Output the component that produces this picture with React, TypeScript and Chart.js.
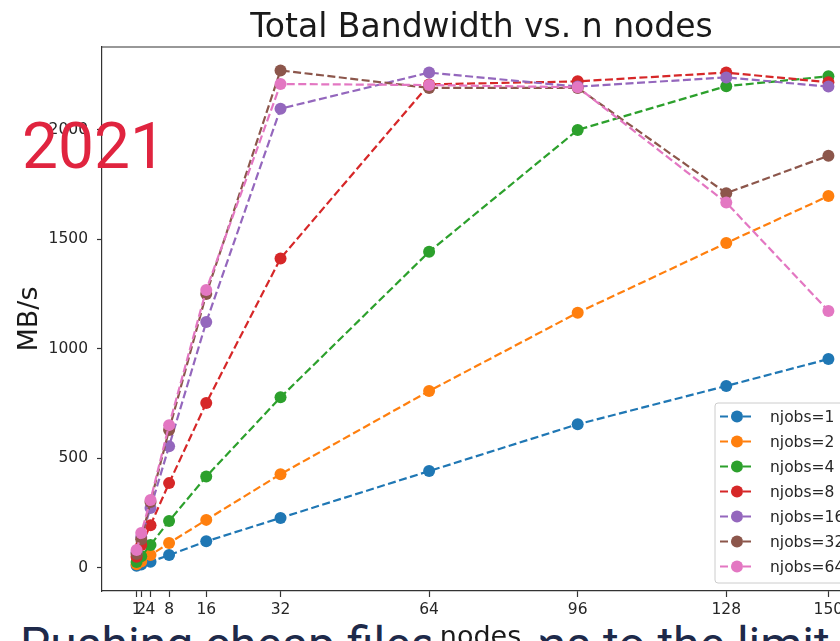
import React, { useEffect, useRef } from "react";
import { Chart, registerables } from "chart.js";

Chart.register(...registerables);

const nodes = [1, 2, 4, 8, 16, 32, 64, 96, 128, 150];
const xTickValues = [1, 2, 4, 8, 16, 32, 64, 96, 128, 150];
const yTickValues = [0, 500, 1000, 1500, 2000];

const njobs1 = [8, 14, 27, 57, 120, 227, 441, 655, 830, 953];
const njobs2 = [15, 28, 57, 112, 218, 427, 807, 1165, 1483, 1698];
const njobs4 = [25, 52, 103, 213, 416, 778, 1443, 2000, 2200, 2245];
const njobs8 = [50, 103, 194, 386, 752, 1413, 2208, 2222, 2262, 2218];
const njobs16 = [70, 140, 272, 555, 1122, 2097, 2262, 2198, 2240, 2198];
const njobs32 = [62, 130, 300, 629, 1250, 2272, 2192, 2192, 1711, 1882];
const njobs64 = [80, 158, 309, 651, 1269, 2210, 2205, 2195, 1668, 1173];

const seriesLabels = ["njobs=1", "njobs=2", "njobs=4", "njobs=8", "njobs=16", "njobs=32", "njobs=64"];
const seriesValues = [njobs1, njobs2, njobs4, njobs8, njobs16, njobs32, njobs64];
const seriesColors = ["#1f77b4", "#ff7f0e", "#2ca02c", "#d62728", "#9467bd", "#8c564b", "#e377c2"];

const TITLE = "Total Bandwidth vs. n nodes";
const X_LABEL = "nodes";
const Y_LABEL = "MB/s";
const YEAR_TEXT = "2021";
const SLIDE_TEXT = "Pushing cheap filesystems to the limit";

const FONT = '"DejaVu Sans", sans-serif';
const DASH = [8, 3.5];

const overlayPlugin = {
  id: "overlay",
  afterDraw(chart: any) {
    const ctx = chart.ctx as CanvasRenderingContext2D;
    const a = chart.chartArea;
    ctx.save();
    // top & right spines
    ctx.strokeStyle = "#333";
    ctx.lineWidth = 1.2;
    ctx.beginPath();
    ctx.moveTo(a.left, a.top);
    ctx.lineTo(a.right, a.top);
    ctx.lineTo(a.right, a.bottom);
    ctx.stroke();

    // title
    ctx.fillStyle = "#1a1a1a";
    ctx.textAlign = "center";
    ctx.textBaseline = "alphabetic";
    ctx.font = `33px ${FONT}`;
    ctx.fillText(TITLE, (a.left + a.right) / 2 - 1, 37);

    // x label with white backing
    const cx = (a.left + a.right) / 2 - 2;
    ctx.fillStyle = "#ffffff";
    ctx.fillRect(cx - 50, 620, 110, 30);
    ctx.fillStyle = "#1a1a1a";
    ctx.font = `27px ${FONT}`;
    ctx.fillText(X_LABEL, cx, 645);

    // y label
    ctx.save();
    ctx.translate(37, (a.top + a.bottom) / 2);
    ctx.rotate(-Math.PI / 2);
    ctx.fillText(Y_LABEL, 0, 0);
    ctx.restore();

    // legend
    const lx = 715;
    const ly = 403;
    const lw = 170;
    const lh = 180;
    ctx.globalAlpha = 0.85;
    ctx.fillStyle = "#ffffff";
    ctx.beginPath();
    (ctx as any).roundRect(lx, ly, lw, lh, 3);
    ctx.fill();
    ctx.globalAlpha = 1;
    ctx.strokeStyle = "#cccccc";
    ctx.lineWidth = 1;
    ctx.stroke();

    ctx.font = `15.5px ${FONT}`;
    ctx.textAlign = "left";
    ctx.textBaseline = "middle";
    seriesLabels.forEach((label, i) => {
      const cy = 416.5 + i * 25;
      const color = seriesColors[i];
      ctx.strokeStyle = color;
      ctx.lineWidth = 2.2;
      ctx.setLineDash(DASH);
      ctx.beginPath();
      ctx.moveTo(720, cy);
      ctx.lineTo(754, cy);
      ctx.stroke();
      ctx.setLineDash([]);
      ctx.fillStyle = color;
      ctx.beginPath();
      ctx.arc(737, cy, 6, 0, Math.PI * 2);
      ctx.fill();
      ctx.fillStyle = "#262626";
      ctx.fillText(label, 770, cy + 1);
    });
    ctx.restore();
  },
};

export default function App() {
  const canvasRef = useRef<HTMLCanvasElement | null>(null);

  useEffect(() => {
    const canvas = canvasRef.current;
    if (!canvas) return;
    const chart = new Chart(canvas, {
      type: "line",
      data: {
        datasets: seriesLabels.map((label, i) => ({
          label,
          data: nodes.map((n, j) => ({ x: n, y: seriesValues[i][j] })),
          borderColor: seriesColors[i],
          backgroundColor: seriesColors[i],
          pointBackgroundColor: seriesColors[i],
          pointBorderColor: seriesColors[i],
          pointBorderWidth: 0,
          pointRadius: 6,
          pointHoverRadius: 6,
          borderWidth: 2.2,
          borderDash: DASH,
          tension: 0,
          fill: false,
          order: 10 - i,
        })),
      },
      options: {
        responsive: false,
        animation: false,
        devicePixelRatio: 1,
        events: [],
        layout: { padding: { top: 47, right: 37, left: 0, bottom: 0 } },
        plugins: {
          legend: { display: false },
          title: { display: false },
          tooltip: { enabled: false },
        },
        scales: {
          x: {
            type: "linear",
            min: -6.45,
            max: 157.45,
            afterBuildTicks: (scale: any) => {
              scale.ticks = xTickValues.map((v) => ({ value: v }));
            },
            afterFit: (scale: any) => {
              scale.height = 50;
            },
            ticks: {
              autoSkip: false,
              maxRotation: 0,
              minRotation: 0,
              padding: 4,
              color: "#262626",
              font: { family: FONT, size: 15.5 },
              callback: (v: any) => String(v),
            },
            grid: {
              display: true,
              drawOnChartArea: false,
              drawTicks: true,
              tickLength: 6,
              tickColor: "#333",
              tickWidth: 1.2,
            },
            border: { display: true, color: "#333", width: 1.2 },
          },
          y: {
            type: "linear",
            min: -107,
            max: 2379,
            afterBuildTicks: (scale: any) => {
              scale.ticks = yTickValues.map((v) => ({ value: v }));
            },
            afterFit: (scale: any) => {
              scale.width = 102;
            },
            ticks: {
              padding: 9,
              color: "#262626",
              font: { family: FONT, size: 15.5 },
              callback: (v: any) => String(v),
            },
            grid: {
              display: true,
              drawOnChartArea: false,
              drawTicks: true,
              tickLength: 5,
              tickColor: "#333",
              tickWidth: 1.2,
            },
            border: { display: true, color: "#333", width: 1.2 },
          },
        },
      },
      plugins: [overlayPlugin],
    });
    return () => chart.destroy();
  }, []);

  return (
    <div
      style={{
        position: "absolute",
        left: 0,
        top: 0,
        width: 840,
        height: 641,
        overflow: "hidden",
        background: "#ffffff",
      }}
    >
      <div
        style={{
          position: "absolute",
          left: 20,
          top: 621,
          fontFamily: "Roboto, sans-serif",
          fontSize: 48,
          lineHeight: "48px",
          color: "#1e2a4a",
          whiteSpace: "nowrap",
        }}
      >
        {SLIDE_TEXT}
      </div>
      <canvas
        ref={canvasRef}
        width={900}
        height={641}
        style={{ position: "absolute", left: 0, top: 0, width: 900, height: 641 }}
      />
      <div
        style={{
          position: "absolute",
          left: 22,
          top: 115,
          fontFamily: "Roboto, sans-serif",
          fontSize: 64,
          lineHeight: "64px",
          color: "#e0243f",
          whiteSpace: "nowrap",
        }}
      >
        {YEAR_TEXT}
      </div>
    </div>
  );
}
